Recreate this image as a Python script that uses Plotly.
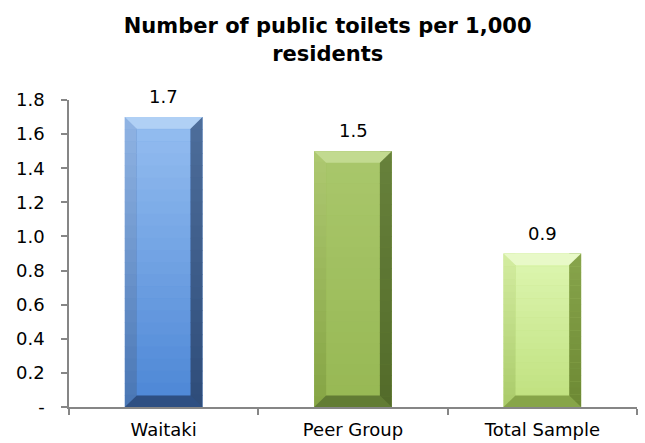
import plotly.graph_objects as go

# Chart data
categories = ["Waitaki", "Peer Group", "Total Sample"]
values = [1.7, 1.5, 0.9]
y_ticks = [0, 0.2, 0.4, 0.6, 0.8, 1.0, 1.2, 1.4, 1.6, 1.8]
y_tick_labels = ["-"] + [f"{v:.1f}" for v in y_ticks[1:]]

# Per-bar bevel colours; (top, bottom) pairs are vertical gradients
palettes = [
    dict(face=("#94bdf0", "#4d87d6"), left=("#8fb3e3", "#4a77b5"),
         right=("#4d6d9a", "#2f4d7a"), top="#b0d0f5", bottom="#2e4f82"),
    dict(face=("#a9c76b", "#97b854"), left=("#adc870", "#86a545"),
         right=("#67813b", "#536b2a"), top="#c2da90", bottom="#627c34"),
    dict(face=("#ddf6b0", "#bfe07e"), left=("#d3ec a0".replace(" ", ""), "#aacb6a"),
         right=("#87a44b", "#6d8934"), top="#e8f9c8", bottom="#87a549"),
]

FONT = "DejaVu Sans, Arial, sans-serif"

bar_w = 0.41
bev_x = 0.063
bev_y = 0.068
n_bands = 24


def mix(c1, c2, t):
    a = [int(c1[k:k + 2], 16) for k in (1, 3, 5)]
    b = [int(c2[k:k + 2], 16) for k in (1, 3, 5)]
    return "#" + "".join(f"{round(x + (y - x) * t):02x}" for x, y in zip(a, b))


def gradient_rect(xa, xb, ya, yb, colors):
    """Vertical gradient rectangle built from thin horizontal bands."""
    out = []
    h = (yb - ya) / n_bands
    for k in range(n_bands):
        t = k / (n_bands - 1)
        y_hi = yb - k * h
        out.append(dict(type="rect", xref="x", yref="y",
                        x0=xa, x1=xb, y0=y_hi - h * 1.05, y1=y_hi,
                        fillcolor=mix(colors[0], colors[1], t),
                        line=dict(width=0), layer="above"))
    return out


def poly(pts, color):
    path = "M " + " L ".join(f"{px},{py}" for px, py in pts) + " Z"
    return dict(type="path", path=path, xref="x", yref="y",
                fillcolor=color, line=dict(width=0), layer="above")


fig = go.Figure()
xs = list(range(len(categories)))
fig.add_trace(go.Bar(
    x=xs, y=values, width=bar_w,
    marker=dict(color=[p["face"][1] for p in palettes], line=dict(width=0)),
    hoverinfo="skip",
))

shapes = []
for i, (v, p) in enumerate(zip(values, palettes)):
    x0, x1 = i - bar_w / 2, i + bar_w / 2
    ix0, ix1 = x0 + bev_x, x1 - bev_x
    iy0, iy1 = bev_y, v - bev_y
    shapes += gradient_rect(ix0, ix1, 0, v, p["face"])
    shapes += gradient_rect(x0, ix0, 0, v, p["left"])
    shapes += gradient_rect(ix1, x1, 0, v, p["right"])
    shapes.append(poly([(x0, v), (x1, v), (ix1, iy1), (ix0, iy1)], p["top"]))
    shapes.append(poly([(x0, 0), (x1, 0), (ix1, iy0), (ix0, iy0)], p["bottom"]))

annotations = [
    dict(x=i, y=v, text=f"{v:.1f}", showarrow=False, xref="x", yref="y",
         yanchor="bottom", yshift=8,
         font=dict(family=FONT, size=18, color="#000"))
    for i, v in enumerate(values)
]

fig.update_layout(
    width=645, height=443,
    margin=dict(l=69, r=8, t=100, b=36),
    paper_bgcolor="white", plot_bgcolor="white",
    showlegend=False,
    title=dict(
        text="<b>Number of public toilets per 1,000<br>residents</b>",
        x=0.508, xanchor="center", y=0.925, yanchor="top",
        font=dict(family=FONT, size=21, color="#000"),
    ),
    shapes=shapes,
    annotations=annotations,
    font=dict(family=FONT, size=18, color="#000"),
)

fig.update_xaxes(
    range=[-0.5, 2.5], tickvals=xs, ticktext=categories,
    ticks="", showgrid=False, zeroline=False,
    showline=True, linecolor="#868686", linewidth=1.5,
    minor=dict(tick0=0.5, dtick=1, ticks="outside", ticklen=6,
               tickcolor="#868686", tickwidth=1.5, showgrid=False),
    tickfont=dict(size=18), ticklabelstandoff=6, automargin=False,
    fixedrange=True,
)
fig.update_yaxes(
    range=[0, 1.8], tickvals=y_ticks, ticktext=y_tick_labels,
    ticks="outside", ticklen=6, tickcolor="#868686", tickwidth=1.5,
    showgrid=False, zeroline=False,
    showline=True, linecolor="#868686", linewidth=1.5,
    tickfont=dict(size=18), ticklabelstandoff=13, automargin=False,
    fixedrange=True,
)

fig.write_html("out.html")
